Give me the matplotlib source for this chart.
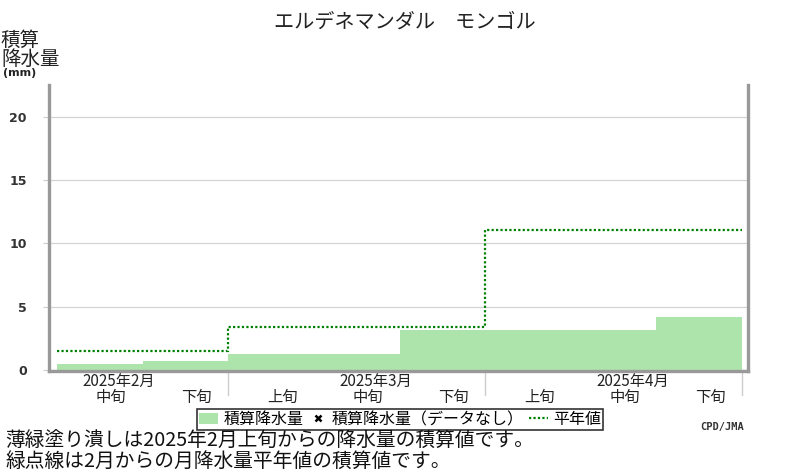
import numpy as np
import matplotlib
matplotlib.use("Agg")
import matplotlib.pyplot as plt
from matplotlib.patches import Patch
from matplotlib.lines import Line2D
import matplotlib.transforms as mtransforms

plt.rcParams['font.family'] = ['Noto Sans CJK JP', 'DejaVu Sans']

# dekads shown (Feb mid .. Apr late), x index 1..8 ; dekad edges
dekad_edges = [1, 2, 3, 4, 5, 6, 7, 8, 9]
cum_precip = [0.5, 0.7, 1.3, 1.3, 3.2, 3.2, 3.2, 4.2]

# monthly normal, accumulated from Feb
month_edges = [1, 3, 6, 9]
cum_normal = [1.5, 3.4, 11.1]

month_labels = ['2025年2月', '2025年3月', '2025年4月']
month_starts = [0, 3, 6]
dekad_names = ['上旬', '中旬', '下旬']
yticks = [0, 5, 10, 15, 20]

fig = plt.figure(figsize=(8, 4.7), dpi=100)
ax = fig.add_axes([49/800, 1-371/470, (748-49)/800, (371-85)/470])

ax.stairs(cum_precip, dekad_edges, fill=True, color='#ade4ab', zorder=2)
ax.stairs(cum_normal, month_edges, baseline=None, color='#008000',
          linewidth=1.6, linestyle=(0, (1, 1)), zorder=3)

ax.set_xlim(1 - 8/85.6, 9 + 6/85.6)
ax.set_ylim(-0.08, 22.53)
ax.set_yticks(yticks)
ax.set_yticklabels([str(v) for v in yticks], fontsize=9, fontweight='bold',
                   color='#333333', family='DejaVu Sans')
ax.tick_params(axis='y', length=4, color='#cccccc', pad=12)
ax.set_xticks([])
ax.grid(axis='y', color='#d4d4d4', linewidth=0.9, zorder=0)
ax.set_axisbelow(True)

for s in ['left', 'right', 'bottom']:
    ax.spines[s].set_color('#999999')
    ax.spines[s].set_linewidth(2.4)
ax.spines['top'].set_visible(False)

trans = mtransforms.blended_transform_factory(ax.transData, ax.transAxes)
# month separators below axis
for m in [3, 6, 9]:
    ax.plot([m, m], [0, -0.084], transform=trans, color='#cccccc',
            linewidth=1, clip_on=False)

xmin = ax.get_xlim()[0]
for i, ms in enumerate(month_starts):
    ax.text(ms + 1.72, -0.036, month_labels[i], transform=trans,
            ha='center', va='center', fontsize=11, color='#222222')
    for j, dn in enumerate(dekad_names):
        xc = ms + j + 0.5 + 0.13
        if xc - 0.2 < xmin:
            continue
        ax.text(xc, -0.092, dn, transform=trans, ha='center', va='center',
                fontsize=11, color='#222222')

fig.text(405/800, 1-22/470, 'エルデネマンダル　モンゴル', ha='center', va='center',
         fontsize=14.5, color='#222222')
fig.text(1/800, 1-40/470, '積算', ha='left', va='center', fontsize=14, color='#222222')
fig.text(1/800, 1-59/470, '降水量', ha='left', va='center', fontsize=14, color='#222222')
fig.text(3/800, 1-73/470, '(mm)', ha='left', va='center', fontsize=8,
         fontweight='bold', color='#222222', family='DejaVu Sans')

handles = [Patch(facecolor='#ade4ab', edgecolor='none'),
           Line2D([], [], marker='x', color='black', linestyle='none',
                  markersize=5, markeredgewidth=1.8),
           Line2D([], [], color='#008000', linewidth=1.6, linestyle=(0, (1, 1)))]
labels = ['積算降水量', '積算降水量（データなし）', '平年値']
leg = fig.legend(handles, labels, loc='center', bbox_to_anchor=(400/800, 1-419.5/470),
                 ncol=3, fontsize=11.5, frameon=True, fancybox=False,
                 edgecolor='black', handlelength=1.2, handletextpad=0.3,
                 columnspacing=0.3, borderpad=0.15, borderaxespad=0)
leg.get_frame().set_linewidth(1.2)

fig.text(700/800, 1-427/470, 'CPD/JMA', ha='left', va='center', fontsize=7.5,
         fontweight='bold', color='#333333', family='DejaVu Sans Mono')
fig.text(5/800, 1-441/470, '薄緑塗り潰しは2025年2月上旬からの降水量の積算値です。',
         ha='left', va='center', fontsize=14.2, color='#111111')
fig.text(5/800, 1-461/470, '緑点線は2月からの月降水量平年値の積算値です。',
         ha='left', va='center', fontsize=14.2, color='#111111')

fig.savefig('out.png', dpi=100)
